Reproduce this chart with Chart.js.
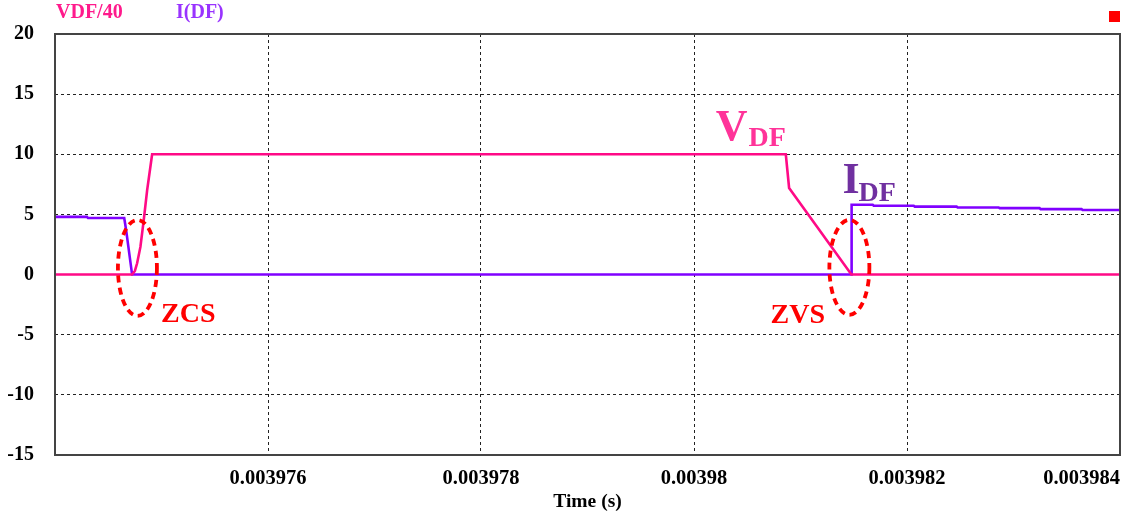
<!DOCTYPE html>
<html>
<head>
<meta charset="utf-8">
<script src="https://cdn.jsdelivr.net/npm/chart.js@4.4.1/dist/chart.umd.min.js"></script>
<style>
  html, body { margin: 0; padding: 0; background: #ffffff; }
  #wrap { width: 1136px; height: 517px; position: relative; }
</style>
</head>
<body>
<div id="wrap"><canvas id="c" width="1136" height="517"></canvas></div>
<script>
// Diode voltage (scaled by 1/40) and diode current over one switching edge pair
const vdfTime = [0.003974, 0.003974724, 0.00397475, 0.003974771, 0.003974802, 0.003974833,
                 0.003974865, 0.003974912, 0.003980862, 0.003980893, 0.003981478, 0.003984];
const vdfValue = [0, 0, 0.3, 0.94, 2.3, 4.5, 7.0, 10.0, 10.0, 7.2, 0, 0];

const idfTime = [0.003974, 0.0039743, 0.00397431, 0.00397465, 0.003974668, 0.003974724,
                 0.003981478, 0.00398148, 0.003981678, 0.003981688, 0.003982063, 0.003982073,
                 0.003982466, 0.003982476, 0.00398286, 0.00398287, 0.003983245, 0.003983255,
                 0.003983639, 0.003983649, 0.003984];
const idfValue = [4.8, 4.8, 4.7, 4.7, 3.7, 0,
                  0, 5.8, 5.8, 5.72, 5.72, 5.65,
                  5.65, 5.58, 5.58, 5.52, 5.52, 5.44,
                  5.44, 5.37, 5.37];

const xTickValues = [0.003974, 0.003976, 0.003978, 0.00398, 0.003982, 0.003984];
const xTickLabels = ['', '0.003976', '0.003978', '0.00398', '0.003982', '0.003984'];
const seriesNames = ['VDF/40', 'I(DF)'];

const SERIF = '"Liberation Serif", "Times New Roman", serif';
const PINK = '#FF0A86';
const PURPLE = '#8000FF';

const toPoints = (xs, ys) => xs.map((x, i) => ({ x: x, y: ys[i] }));

// Text and marker overlays placed in data coordinates
const overlays = {
  labels: [
    { parts: [{ t: 'V', size: 44, dy: 0 }, { t: 'DF', size: 28, dy: 6.7 }], x: 0.003980205, y: 11.22, color: '#FF3399' },
    { parts: [{ t: 'I', size: 44, dy: 0 }, { t: 'DF', size: 28, dy: 7.7, dx: -2 }], x: 0.003981394, y: 6.78, color: '#7030A0' },
    { parts: [{ t: 'ZCS', size: 28, dy: 0 }], x: 0.003974996, y: -3.93, color: '#FF0000' },
    { parts: [{ t: 'ZVS', size: 28, dy: 0 }], x: 0.003980719, y: -4.06, color: '#FF0000' }
  ],
  ellipses: [
    { x: 0.003974774, y: 0.55, rx: 19.5, ry: 48 },
    { x: 0.003981459, y: 0.6, rx: 20, ry: 47.5 }
  ]
};

const decorations = {
  id: 'decorations',
  afterDatasetsDraw(chart) {
    const { ctx, chartArea: a, scales: { x, y } } = chart;
    ctx.save();

    // plot frame
    ctx.strokeStyle = '#444444';
    ctx.lineWidth = 2;
    ctx.setLineDash([]);
    ctx.strokeRect(a.left, a.top, a.right - a.left, a.bottom - a.top);

    // dashed ellipses around the soft-switching instants
    ctx.strokeStyle = '#FF0000';
    ctx.lineWidth = 3.8;
    ctx.setLineDash([7, 5]);
    overlays.ellipses.forEach(e => {
      ctx.beginPath();
      ctx.ellipse(x.getPixelForValue(e.x), y.getPixelForValue(e.y), e.rx, e.ry, 0, 0, Math.PI * 2);
      ctx.stroke();
    });
    ctx.setLineDash([]);

    // annotation texts with subscripts
    ctx.textAlign = 'left';
    ctx.textBaseline = 'alphabetic';
    overlays.labels.forEach(l => {
      let px = x.getPixelForValue(l.x);
      const py = y.getPixelForValue(l.y);
      ctx.fillStyle = l.color;
      l.parts.forEach(p => {
        ctx.font = 'bold ' + p.size + 'px ' + SERIF;
        px += (p.dx || 0);
        ctx.fillText(p.t, px, py + p.dy);
        px += ctx.measureText(p.t).width + 1;
      });
    });

    // series names along the top
    ctx.font = 'bold 20px ' + SERIF;
    ctx.textBaseline = 'middle';
    ctx.fillStyle = '#FF1A8C';
    ctx.fillText(seriesNames[0], 56, 13);
    ctx.fillStyle = '#9933FF';
    ctx.fillText(seriesNames[1], 176, 13);

    // small red marker, top right
    ctx.fillStyle = '#FF0000';
    ctx.fillRect(1109, 11, 11, 11);

    ctx.restore();
  }
};

new Chart(document.getElementById('c'), {
  type: 'line',
  data: {
    datasets: [
      {
        label: seriesNames[1],
        data: toPoints(idfTime, idfValue),
        borderColor: PURPLE,
        borderWidth: 2.6,
        pointRadius: 0,
        tension: 0,
        order: 2
      },
      {
        label: seriesNames[0],
        data: toPoints(vdfTime, vdfValue),
        borderColor: PINK,
        borderWidth: 2.6,
        pointRadius: 0,
        tension: 0,
        order: 1
      }
    ]
  },
  options: {
    responsive: false,
    animation: false,
    devicePixelRatio: 1,
    layout: { padding: { top: 34, right: 16, bottom: 0, left: 0 } },
    plugins: { legend: { display: false }, tooltip: { enabled: false } },
    scales: {
      x: {
        type: 'linear',
        min: 0.003974,
        max: 0.003984,
        afterBuildTicks(scale) { scale.ticks = xTickValues.map(v => ({ value: v })); },
        afterFit(scale) { scale.height = 62; },
        ticks: {
          autoSkip: false,
          maxRotation: 0,
          align: 'inner',
          padding: 11,
          color: '#000000',
          font: { family: SERIF, size: 20.5, weight: 'bold' },
          callback: (v, i) => xTickLabels[i]
        },
        grid: { color: '#222222', lineWidth: 1, drawTicks: false },
        border: { display: false, dash: [3, 3] },
        title: {
          display: true,
          text: 'Time (s)',
          color: '#000000',
          font: { family: SERIF, size: 19.5, weight: 'bold' },
          padding: { top: 0, bottom: 3 }
        }
      },
      y: {
        min: -15,
        max: 20,
        afterFit(scale) { scale.width = 55; },
        ticks: {
          stepSize: 5,
          padding: 21,
          color: '#000000',
          font: { family: SERIF, size: 20, weight: 'bold' }
        },
        grid: { color: '#222222', lineWidth: 1, drawTicks: false },
        border: { display: false, dash: [3, 3] }
      }
    }
  },
  plugins: [decorations]
});
</script>
</body>
</html>
